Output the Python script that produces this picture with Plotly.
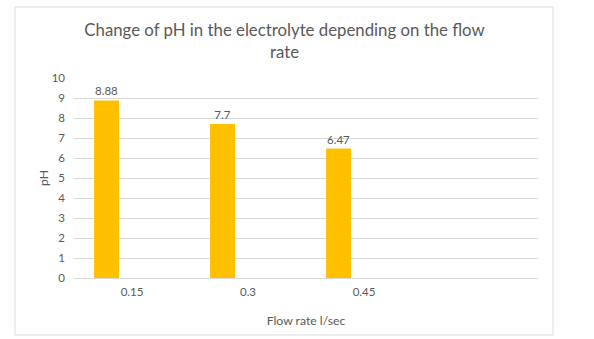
import plotly.graph_objects as go

flow_rates = ["0.15", "0.3", "0.45"]
ph_values = [8.88, 7.7, 6.47]
ph_labels = ["8.88", "7.7", "6.47"]
y_ticks = [0, 1, 2, 3, 4, 5, 6, 7, 8, 9, 10]

W, H = 594, 339
L, R, T, B = 74, 56, 78, 61
pw, ph_ = W - L - R, H - T - B

FONT = "Lato, sans-serif"
GREY = "#595959"
GRID = "#d9d9d9"

x_idx = list(range(len(flow_rates)))

fig = go.Figure()
fig.add_trace(go.Bar(
    x=x_idx, y=ph_values,
    width=0.215, offset=-0.327,
    marker=dict(color="#FFC000", line=dict(width=0)),
    text=ph_labels, textposition="outside", cliponaxis=False,
    textfont=dict(family=FONT, size=11.5, color=GREY),
    hoverinfo="skip",
))

def px_x(px):
    return (px - L) / pw

def px_y(py):
    return (H - B - py) / ph_

fig.update_layout(
    width=W, height=H,
    margin=dict(l=L, r=R, t=T, b=B, pad=0),
    paper_bgcolor="white", plot_bgcolor="white",
    showlegend=False,
    font=dict(family=FONT, color=GREY),
    title=dict(
        text="Change of pH in the electrolyte depending on the flow<br>rate",
        x=284.5 / W, xanchor="center", xref="container",
        y=1 - 36 / H, yanchor="top", yref="container",
        font=dict(family=FONT, size=16.8, color=GREY),
    ),
    xaxis=dict(
        range=[-0.5, 3.5],
        tickvals=x_idx, ticktext=flow_rates,
        showgrid=False, zeroline=False,
        showline=True, linecolor=GRID, linewidth=1,
        ticks="", ticklabelstandoff=3,
        tickfont=dict(family=FONT, size=11.5, color=GREY),
        title=dict(text="Flow rate l/sec", standoff=19,
                   font=dict(family=FONT, size=12.2, color=GREY)),
    ),
    yaxis=dict(
        range=[0, 10], tickvals=y_ticks,
        showgrid=True, gridcolor=GRID, gridwidth=1,
        zeroline=False, showline=False,
        ticks="", ticklabelstandoff=8,
        tickfont=dict(family=FONT, size=11.5, color=GREY),
        title=dict(text="pH", standoff=0,
                   font=dict(family=FONT, size=12.2, color=GREY)),
    ),
    shapes=[dict(
        type="rect", xref="paper", yref="paper",
        x0=px_x(15), x1=px_x(553), y0=px_y(335), y1=px_y(7),
        line=dict(color=GRID, width=1), fillcolor="rgba(0,0,0,0)",
        layer="below",
    )],
)

fig.write_html("out.html")
